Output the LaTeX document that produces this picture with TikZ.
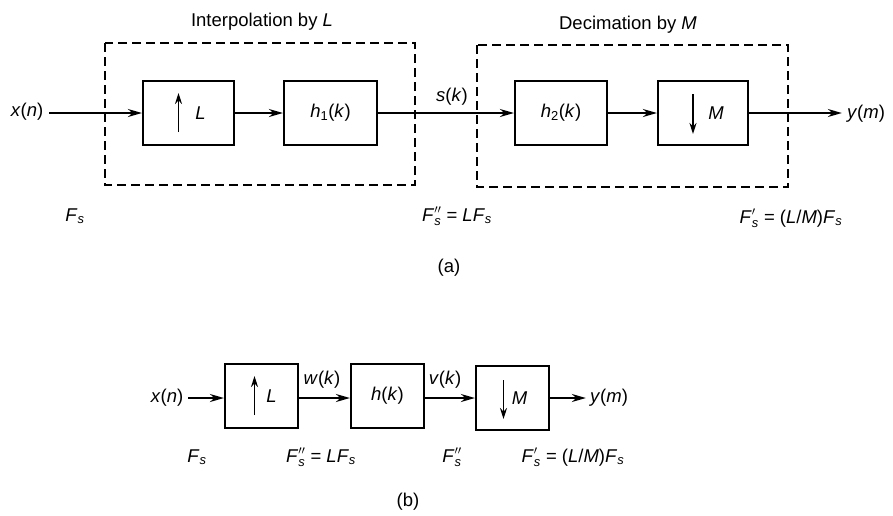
\documentclass[tikz,border=0pt]{standalone}
\usepackage{fontspec}
\usepackage{amsmath}
\setmainfont{Liberation Sans}
\usetikzlibrary{arrows.meta}
\newcommand{\vi}[1]{\textit{#1}}
\newcommand{\FsA}{$\text{\vi{F}}_{\text{\vi{s}}}$}
\begin{document}
\begin{tikzpicture}[x=1pt,y=-1pt,
  every node/.style={font=\fontsize{18.5}{21}\selectfont, inner sep=0pt},
  blk/.style={draw, line width=2.2pt, minimum height=64pt},
  dbox/.style={draw, line width=1.7pt, dash pattern=on 9pt off 5pt},
  sig/.style={line width=1.8pt, -{Stealth[length=14pt,width=8pt]}},
  inarr/.style={line width=1.8pt, -{Stealth[length=11pt,width=7pt]}},
  lbl/.style={anchor=center}]
\useasboundingbox (0,0) rectangle (893,515);
% ---------------- (a)
\node[lbl] (tI) at (262,22) {Interpolation by \vi{L}};
\node[lbl] (tD) at (628,25) {Decimation by \vi{M}};
\draw[dbox] (105,43) rectangle (415,185);
\draw[dbox] (477,45) rectangle (788,187);
\node[blk, minimum width=91pt] (a1) at (188.5,113) {};
\node[blk, minimum width=93pt] (a2) at (330.5,113) {\vi{h}\textsubscript{1}(\vi{k})};
\node[blk, minimum width=92pt] (a3) at (561,113) {\vi{h}\textsubscript{2}(\vi{k})};
\node[blk, minimum width=90pt] (a4) at (703,113) {};
\coordinate (ua) at ([xshift=-10pt,yshift=-19pt]a1.center);
\coordinate (ub) at ([xshift=-10pt,yshift=20pt]a1.center);
\draw[inarr] (ua) -- (ub);
\node[lbl] (La) at ([xshift=12pt]a1.center) {\vi{L}};
\coordinate (da) at ([xshift=-10pt,yshift=19pt]a4.center);
\coordinate (db) at ([xshift=-10pt,yshift=-21pt]a4.center);
\draw[inarr] (da) -- (db);
\node[lbl] (Ma) at ([xshift=13pt]a4.center) {\vi{M}};
\node[lbl] (xa) at (27,112) {\vi{x}(\vi{n})};
\node[lbl] (ya) at (866,114) {\vi{y}(\vi{m})};
\draw[sig] ([xshift=6pt]xa.east |- a1.west) -- (a1.west);
\draw[sig] (a1.east) -- (a2.west);
\draw[sig] (a2.east) -- (a3.west);
\draw[sig] (a3.east) -- (a4.west);
\draw[sig] (a4.east) -- ([xshift=-5pt]ya.west |- a4.east);
\node[lbl] (sk) at (452,97) {\vi{s}(\vi{k})};
\node[lbl] (fa1) at (75,216) {\FsA};
\node[lbl] (fa2) at (457,216) {$\text{\vi{F}}_{\text{\vi{s}}}^{\prime\prime}$ = \vi{LF}\textsubscript{\vi{s}}};
\node[lbl] (fa3) at (791,218) {$\text{\vi{F}}_{\text{\vi{s}}}^{\prime}$ = (\vi{L}/\vi{M})\vi{F}\textsubscript{\vi{s}}};
\node[lbl] (capa) at (449,268) {(a)};
% ---------------- (b)
\node[blk, minimum width=73pt] (b1) at (261.5,396) {};
\node[blk, minimum width=73pt] (b2) at (387.5,396) {\vi{h}(\vi{k})};
\node[blk, minimum width=73pt] (b3) at (512.5,398) {};
\coordinate (ub1) at ([xshift=-7pt,yshift=-19pt]b1.center);
\coordinate (ub2) at ([xshift=-7pt,yshift=20pt]b1.center);
\draw[inarr] (ub1) -- (ub2);
\node[lbl] (Lb) at ([xshift=10pt]b1.center) {\vi{L}};
\coordinate (db1) at ([xshift=-9pt,yshift=18pt]b3.center);
\coordinate (db2) at ([xshift=-9pt,yshift=-21pt]b3.center);
\draw[inarr] (db1) -- (db2);
\node[lbl] (Mb) at ([xshift=7pt]b3.center) {\vi{M}};
\node[lbl] (xb) at (167,398) {\vi{x}(\vi{n})};
\node[lbl] (yb) at (609,398) {\vi{y}(\vi{m})};
\draw[sig] ([xshift=5pt]xb.east) -- (b1.west |- xb);
\draw[sig] (b1.east |- xb) -- (b2.west |- xb);
\draw[sig] (b2.east |- xb) -- (b3.west |- xb);
\draw[sig] (b3.east |- xb) -- ([xshift=-4pt]yb.west);
\node[lbl] (wk) at (322,380) {\vi{w}(\vi{k})};
\node[lbl] (vk) at (445,380) {\vi{v}(\vi{k})};
\node[lbl] (fb1) at (197,457) {\FsA};
\node[lbl] (fb2) at (321,457) {$\text{\vi{F}}_{\text{\vi{s}}}^{\prime\prime}$ = \vi{LF}\textsubscript{\vi{s}}};
\node[lbl] (fb3) at (452,457) {$\text{\vi{F}}_{\text{\vi{s}}}^{\prime\prime}$};
\node[lbl] (fb4) at (573,457) {$\text{\vi{F}}_{\text{\vi{s}}}^{\prime}$ = (\vi{L}/\vi{M})\vi{F}\textsubscript{\vi{s}}};
\node[lbl] (capb) at (408,502) {(b)};
\end{tikzpicture}
\end{document}
